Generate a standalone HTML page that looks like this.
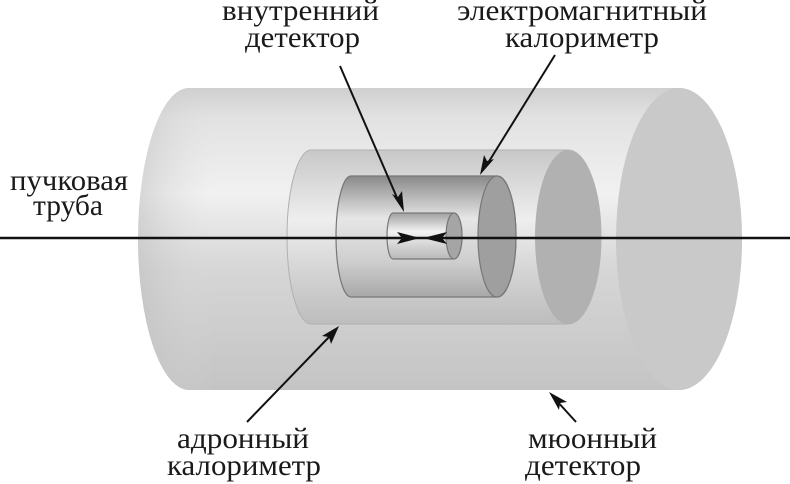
<!DOCTYPE html>
<html><head><meta charset="utf-8"><style>
html,body{margin:0;padding:0;background:#fff;}
svg{display:block;}
text{font-family:"Liberation Serif","DejaVu Serif",serif;font-size:30px;fill:#1a1a1a;}
</style></head><body>
<svg width="790" height="484" viewBox="0 0 790 484" xmlns="http://www.w3.org/2000/svg">
<defs>
<linearGradient id="gOut" x1="0" y1="0" x2="0" y2="1">
<stop offset="0" stop-color="#cfcfcf"/><stop offset="0.1" stop-color="#e2e2e2"/><stop offset="0.35" stop-color="#f1f1f1"/><stop offset="0.6" stop-color="#d6d6d6"/><stop offset="1" stop-color="#c4c4c4"/>
</linearGradient>
<linearGradient id="gHad" x1="0" y1="0" x2="0" y2="1">
<stop offset="0" stop-color="#c8c8c8"/><stop offset="0.4" stop-color="#eeeeee"/><stop offset="0.7" stop-color="#d4d4d4"/><stop offset="1" stop-color="#bdbdbd"/>
</linearGradient>
<linearGradient id="gEm" x1="0" y1="0" x2="0" y2="1">
<stop offset="0" stop-color="#8a8a8a"/><stop offset="0.35" stop-color="#e6e6e6"/><stop offset="0.7" stop-color="#cfcfcf"/><stop offset="1" stop-color="#a8a8a8"/>
</linearGradient>
<linearGradient id="gIn" x1="0" y1="0" x2="0" y2="1">
<stop offset="0" stop-color="#a0a0a0"/><stop offset="0.4" stop-color="#f2f2f2"/><stop offset="1" stop-color="#b8b8b8"/>
</linearGradient>
<linearGradient id="gLeft" x1="0" y1="0" x2="1" y2="0">
<stop offset="0" stop-color="#bbbbbb"/><stop offset="1" stop-color="#e0e0e0" stop-opacity="0"/>
</linearGradient>
</defs>

<path d="M189,88 L679,88 A63,151 0 0 1 679,390 L189,390 A51,151 0 0 1 189,88 Z" fill="url(#gOut)"/>
<path d="M189,88 A51,151 0 0 0 189,390 L215,390 L215,88 Z" fill="url(#gLeft)" opacity="0.5"/>
<ellipse cx="679" cy="239" rx="63" ry="151" fill="#c9c9c9"/>

<path d="M311,150 L568,150 A33,87 0 0 1 568,324 L311,324 A24,87 0 0 1 311,150 Z" fill="url(#gHad)" stroke="#b0b0b0" stroke-width="1"/>
<ellipse cx="568" cy="237" rx="33" ry="87" fill="#b1b1b1"/>

<path d="M351,176 L497,176 A19,60.5 0 0 1 497,297 L351,297 A15,60.5 0 0 1 351,176 Z" fill="url(#gEm)" stroke="#777" stroke-width="1.2"/>
<ellipse cx="497" cy="236.5" rx="19" ry="60.5" fill="#9f9f9f" stroke="#777" stroke-width="1.2"/>

<path d="M393,213 L454,213 A8,23 0 0 1 454,259 L393,259 A6,23 0 0 1 393,213 Z" fill="url(#gIn)" stroke="#777" stroke-width="1.2"/>
<ellipse cx="454" cy="236" rx="8" ry="23" fill="#a5a5a5" stroke="#777" stroke-width="1.2"/>

<line x1="0" y1="238" x2="790" y2="238" stroke="#111" stroke-width="2.6"/>
<path d="M420,238 L397,232 L402,238 L397,244 Z" fill="#111"/>
<path d="M423,238 L447,232 L442,238 L447,244 Z" fill="#111"/>

<g stroke="#111" stroke-width="2" fill="none">
<line x1="340" y1="66" x2="398" y2="200"/>
<line x1="555" y1="55" x2="488" y2="163"/>
<line x1="247" y1="422" x2="330" y2="336"/>
<line x1="576" y1="422" x2="556" y2="400"/>
</g>
<g fill="#111">
<path d="M404,212 L392,194 L398,197 L402,191 Z"/>
<path d="M480,175 L484,155 L487,161 L494,159 Z"/>
<path d="M339,326 L331,344 L329,337 L322,336 Z"/>
<path d="M549,392 L567,402 L560,403 L559,410 Z"/>
</g>

<text x="222" y="20" textLength="157" lengthAdjust="spacingAndGlyphs">внутренний</text>
<text x="245" y="47" textLength="115" lengthAdjust="spacingAndGlyphs">детектор</text>
<text x="457" y="20" textLength="250" lengthAdjust="spacingAndGlyphs">электромагнитный</text>
<text x="505" y="47" textLength="154" lengthAdjust="spacingAndGlyphs">калориметр</text>
<text x="10" y="190" textLength="118" lengthAdjust="spacingAndGlyphs">пучковая</text>
<text x="33" y="215" textLength="70" lengthAdjust="spacingAndGlyphs">труба</text>
<text x="177" y="448" textLength="132" lengthAdjust="spacingAndGlyphs">адронный</text>
<text x="167" y="475" textLength="154" lengthAdjust="spacingAndGlyphs">калориметр</text>
<text x="528" y="448" textLength="129" lengthAdjust="spacingAndGlyphs">мюонный</text>
<text x="525" y="475" textLength="116" lengthAdjust="spacingAndGlyphs">детектор</text>
</svg>
</body></html>
